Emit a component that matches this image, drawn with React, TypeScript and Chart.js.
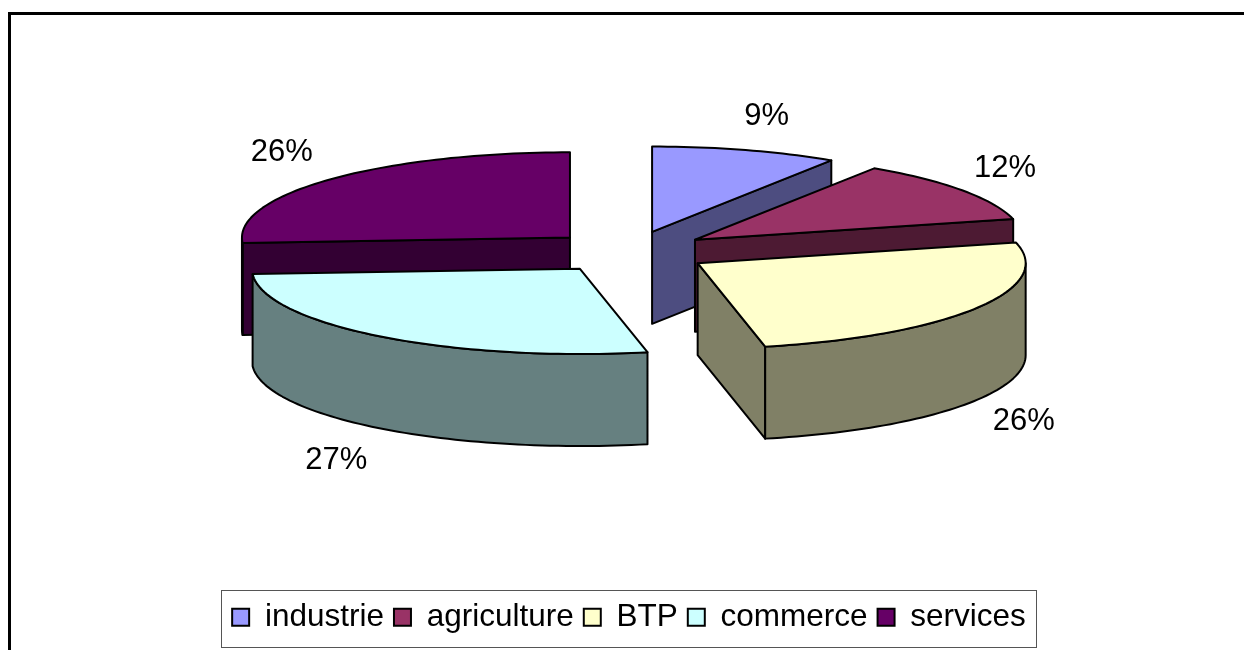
import React, { useEffect, useRef } from "react";
import { ArcElement, Chart, registerables } from "chart.js";

Chart.register(...registerables);

const categories = ["industrie", "agriculture", "BTP", "commerce", "services"];
const shares = [9.2, 11.9, 25.6, 27.3, 26];
const topColors = ["#9999FF", "#993366", "#FFFFCC", "#CCFFFF", "#660066"];
const wallColors = ["#4D4D80", "#4D1A33", "#808066", "#668080", "#330033"];
const labelNudges = [[21, -34], [43, -22], [48, 113], [-45, 124], [-49, -27]];

const FONT = '"Liberation Sans", Arial, sans-serif';
const SQUASH = 0.26;
const DEPTH = 92;
const CENTER_X = 629;
const CENTER_Y = 252;
const EXPLODE = 81;
const RADIUS = 328;

function pointOf(arc: any, theta: number, r = RADIUS) {
  const mid = (arc.startAngle + arc.endAngle) / 2;
  return {
    x: CENTER_X + EXPLODE * Math.cos(mid) + r * Math.cos(theta),
    y: CENTER_Y + SQUASH * (EXPLODE * Math.sin(mid) + r * Math.sin(theta)),
  };
}

function rimPoints(arc: any, from: number, to: number) {
  const pts = [];
  const steps = Math.max(2, Math.ceil(Math.abs(to - from) * 40));
  for (let i = 0; i <= steps; i++) pts.push(pointOf(arc, from + ((to - from) * i) / steps));
  return pts;
}

function polygon(ctx: CanvasRenderingContext2D, pts: { x: number; y: number }[], fill: string) {
  ctx.beginPath();
  pts.forEach((p, i) => (i ? ctx.lineTo(p.x, p.y) : ctx.moveTo(p.x, p.y)));
  ctx.closePath();
  ctx.fillStyle = fill;
  ctx.fill();
  ctx.stroke();
}

const drop = (p: { x: number; y: number }) => ({ x: p.x, y: p.y + DEPTH });

const pie3d = {
  id: "pie3d",
  beforeDatasetsDraw(chart: any) {
    const ctx: CanvasRenderingContext2D = chart.ctx;
    const arcs = chart.getDatasetMeta(0).data;
    // Explode each slice along its own mid-angle, keeping the library's arc drawing.
    arcs.forEach((arc: any) => {
      arc.draw = function (c: CanvasRenderingContext2D) {
        const mid = (this.startAngle + this.endAngle) / 2;
        c.save();
        c.translate(Math.cos(mid) * EXPLODE, Math.sin(mid) * EXPLODE);
        ArcElement.prototype.draw.call(this, c);
        c.restore();
      };
    });
    const order = arcs
      .map((a: any, i: number) => i)
      .sort((a: number, b: number) => {
        const m = (x: any) => Math.sin((x.startAngle + x.endAngle) / 2);
        return m(arcs[a]) - m(arcs[b]);
      });
    ctx.save();
    ctx.strokeStyle = "#000";
    ctx.lineWidth = 2;
    ctx.lineJoin = "round";
    for (const i of order) {
      const arc = arcs[i];
      const apex = pointOf(arc, 0, 0);
      for (const [theta, visible] of [
        [arc.startAngle, Math.cos(arc.startAngle) < 0],
        [arc.endAngle, Math.cos(arc.endAngle) > 0],
      ] as [number, boolean][]) {
        if (!visible) continue;
        const rim = pointOf(arc, theta);
        polygon(ctx, [apex, rim, drop(rim), drop(apex)], wallColors[i]);
      }
      const twoPi = Math.PI * 2;
      for (const k of [0, 1]) {
        const from = Math.max(arc.startAngle, k * twoPi);
        const to = Math.min(arc.endAngle, Math.PI + k * twoPi);
        if (to > from) {
          const edge = rimPoints(arc, from, to);
          polygon(ctx, [...edge, ...edge.map(drop).reverse()], wallColors[i]);
        }
      }
    }
    ctx.restore();
    const first = arcs[0];
    ctx.save();
    ctx.translate(CENTER_X, CENTER_Y);
    ctx.scale(1, SQUASH);
    ctx.translate(-first.x, -first.y);
  },
  afterDatasetsDraw(chart: any) {
    const ctx: CanvasRenderingContext2D = chart.ctx;
    ctx.restore();
    const arcs = chart.getDatasetMeta(0).data;
    ctx.save();
    ctx.strokeStyle = "#000";
    ctx.lineWidth = 2;
    ctx.lineJoin = "round";
    arcs.forEach((arc: any) => {
      const pts = [pointOf(arc, 0, 0), ...rimPoints(arc, arc.startAngle, arc.endAngle)];
      ctx.beginPath();
      pts.forEach((p, i) => (i ? ctx.lineTo(p.x, p.y) : ctx.moveTo(p.x, p.y)));
      ctx.closePath();
      ctx.stroke();
    });
    ctx.fillStyle = "#000";
    ctx.font = `31px ${FONT}`;
    ctx.textAlign = "center";
    ctx.textBaseline = "middle";
    arcs.forEach((arc: any, i: number) => {
      const mid = (arc.startAngle + arc.endAngle) / 2;
      const p = pointOf(arc, mid);
      ctx.fillText(`${Math.round(shares[i])}%`, p.x + labelNudges[i][0], p.y + labelNudges[i][1]);
    });
    ctx.restore();
  },
  afterDraw(chart: any) {
    const ctx: CanvasRenderingContext2D = chart.ctx;
    ctx.save();
    ctx.strokeStyle = "#000";
    ctx.lineWidth = 3;
    ctx.beginPath();
    ctx.moveTo(9.5, 650);
    ctx.lineTo(9.5, 13.5);
    ctx.lineTo(1244, 13.5);
    ctx.stroke();
    ctx.strokeStyle = "#555";
    ctx.lineWidth = 1;
    ctx.strokeRect(221.5, 590.5, 815, 57);
    ctx.restore();
  },
};

export default function App() {
  const ref = useRef<HTMLCanvasElement>(null);
  useEffect(() => {
    const chart = new Chart(ref.current!, {
      type: "pie",
      data: {
        labels: categories,
        datasets: [
          {
            data: shares,
            backgroundColor: topColors,
            borderWidth: 0,
            clip: false,
          } as any,
        ],
      },
      options: {
        animation: false,
        responsive: false,
        devicePixelRatio: 1,
        events: [],
        radius: RADIUS,
        layout: { padding: { left: 14, bottom: 7 } },
        plugins: {
          tooltip: { enabled: false },
          title: { display: false },
          legend: {
            display: true,
            position: "bottom",
            labels: {
              boxWidth: 17,
              boxHeight: 17,
              padding: 10,
              color: "#000",
              font: { family: FONT, size: 31.5 },
              generateLabels: () =>
                categories.map((text, index) => ({
                  text,
                  index,
                  fillStyle: topColors[index],
                  strokeStyle: "#000",
                  lineWidth: 2,
                  hidden: false,
                })),
            },
          },
        },
      } as any,
      plugins: [pie3d as any],
    });
    return () => chart.destroy();
  }, []);
  return (
    <div style={{ position: "absolute", left: 0, top: 0, width: 1244, height: 650, background: "#fff" }}>
      <canvas ref={ref} width={1244} height={650} style={{ display: "block" }} />
    </div>
  );
}
